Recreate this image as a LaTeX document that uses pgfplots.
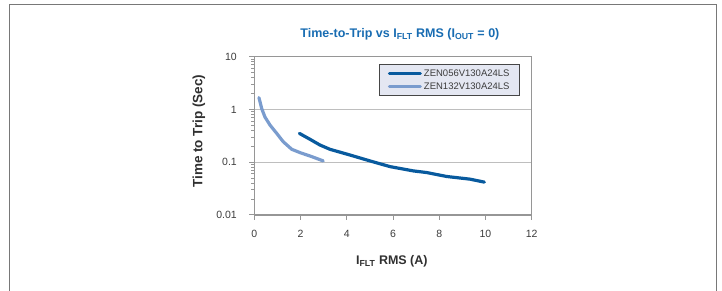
\documentclass[border=0pt]{standalone}
\usepackage{fontspec}
\setmainfont{Liberation Sans}
\usepackage{pgfplots}
\pgfplotsset{compat=1.18}
\definecolor{darkser}{RGB}{8,90,158}
\definecolor{lightser}{RGB}{122,156,206}
\definecolor{titleblue}{RGB}{24,108,178}
\definecolor{legfill}{RGB}{228,231,242}
\definecolor{axgray}{RGB}{150,150,150}
\definecolor{gridgray}{RGB}{190,190,190}
\definecolor{txtgray}{RGB}{60,60,60}
\begin{document}
\begin{tikzpicture}[x=1pt,y=1pt]
\useasboundingbox (0,0) rectangle (722,291);
\draw[color={rgb,255:red,120;green,120;blue,120}, line width=1.2pt] (9.6,-2) -- (9.6,286.7) -- (716.5,286.7) -- (716.5,-2);
\begin{axis}[
  at={(254.3pt,76pt)}, anchor=south west,
  scale only axis, width=277.4pt, height=158.3pt,
  xmin=0, xmax=12, ymin=0.01, ymax=10,
  ymode=log,
  xtick={0,2,4,6,8,10,12},
  ytick={0.01,0.1,1,10},
  yticklabels={0.01,0.1,1,10},
  minor ytick={},
  /pgf/number format/assume math mode=true,
  tick pos=left, tick align=outside,
  major tick length=5pt,
  tick style={color=axgray, line width=1pt},
  axis line style={color=axgray, line width=1.3pt},
  ymajorgrids, grid style={color=gridgray, line width=1.1pt},
  ticklabel style={font=\fontsize{10.5}{12}\selectfont, color=txtgray},
  xticklabel shift=7pt,
  yticklabel shift=9pt,
  title={\textbf{Time-to-Trip vs I\textsubscript{FLT} RMS (I\textsubscript{OUT} = 0)}},
  title style={font=\fontsize{12.5}{14}\selectfont, color=titleblue, at={(axis description cs:0.525,1)}, anchor=center, yshift=16.5pt},
  xlabel={\textbf{I\textsubscript{FLT} RMS (A)}},
  xlabel style={font=\fontsize{12.5}{14}\selectfont, color=txtgray!80!black, at={(axis description cs:0.496,-0.295)}, anchor=center},
  ylabel={\textbf{Time to Trip (Sec)}},
  ylabel style={font=\fontsize{13.5}{15}\selectfont, color=txtgray!80!black, at={(axis description cs:-0.20,0.53)}, anchor=center},
  legend cell align=left,
  legend style={at={(1,1)}, anchor=north east, xshift=-11.7pt, yshift=-7.6pt,
    fill=legfill, draw={rgb,255:red,70;green,70;blue,70}, line width=0.9pt,
    font=\fontsize{9.5}{11}\selectfont, text=txtgray,
    inner xsep=8pt, inner ysep=3pt, row sep=0.5pt},
  legend image code/.code={\draw[#1] (0pt,0pt) -- (31pt,0pt);},
]
\addplot[darkser, line width=3.2pt, line join=round, line cap=round] coordinates {
 (1.95,0.352) (2.41,0.272) (2.84,0.212) (3.27,0.176) (4.14,0.137)
 (5.0,0.106) (5.87,0.0826) (6.88,0.0685) (7.46,0.0637)
 (8.32,0.0537) (9.33,0.0478) (9.95,0.042)
};
\addlegendentry{ZEN056V130A24LS}
\addplot[lightser, line width=3.2pt, line join=round, line cap=round] coordinates {
 (0.2,1.68) (0.32,1.04) (0.46,0.72) (0.68,0.506) (0.97,0.352)
 (1.25,0.245) (1.62,0.176) (1.98,0.152) (2.48,0.128) (2.98,0.106)
};
\addlegendentry{ZEN132V130A24LS}
\end{axis}
\end{tikzpicture}
\end{document}
